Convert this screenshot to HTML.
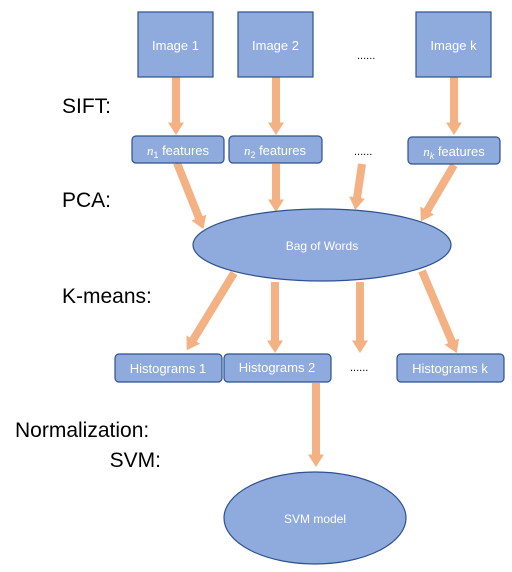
<!DOCTYPE html>
<html><head><style>body{margin:0;background:#fff}svg{display:block}</style></head><body>
<svg width="512" height="572" viewBox="0 0 512 572" xmlns="http://www.w3.org/2000/svg" font-family="Liberation Sans, sans-serif">
<defs>
<marker id="ah" markerWidth="13" markerHeight="17" refX="0.5" refY="8.5" orient="auto" markerUnits="userSpaceOnUse">
<path d="M0,0.5 L12.5,8.5 L0,16.5 Z" fill="#f4b183"/>
</marker>
</defs>
<g stroke="#f4b183" stroke-width="8" marker-end="url(#ah)">
<line x1="176" y1="77" x2="176" y2="123"/>
<line x1="276" y1="77" x2="276" y2="123"/>
<line x1="454" y1="77" x2="454" y2="123"/>
<line x1="177" y1="163" x2="199" y2="218"/>
<line x1="276" y1="164" x2="276" y2="200"/>
<line x1="362" y1="164" x2="357" y2="198"/>
<line x1="454" y1="165" x2="427" y2="211"/>
<line x1="234" y1="273" x2="193" y2="340"/>
<line x1="275" y1="282" x2="275" y2="341"/>
<line x1="360" y1="282" x2="360" y2="341"/>
<line x1="422" y1="271" x2="452" y2="342"/>
<line x1="316" y1="383" x2="316" y2="455"/>
</g>
<g fill="#8faadc" stroke="#2f528f" stroke-width="1.2">
<rect x="138" y="12" width="75" height="65"/>
<rect x="238" y="12" width="75" height="65"/>
<rect x="416" y="12" width="75" height="65"/>
<rect x="132" y="136" width="92" height="27" rx="4"/>
<rect x="229" y="136" width="93" height="27" rx="4"/>
<rect x="408" y="137" width="92" height="27" rx="4"/>
<ellipse cx="322" cy="245" rx="129" ry="36"/>
<rect x="115" y="354" width="107" height="28" rx="4"/>
<rect x="224" y="354" width="107" height="28" rx="4"/>
<rect x="397" y="354" width="107" height="28" rx="4"/>
<ellipse cx="315" cy="518" rx="91" ry="46"/>
</g>
<g fill="#fff" font-size="13" text-anchor="middle">
<text x="175.5" y="50">Image 1</text>
<text x="275.5" y="50">Image 2</text>
<text x="453.5" y="50">Image k</text>
<text x="178" y="155"><tspan font-family="Liberation Serif, serif" font-style="italic">n</tspan><tspan font-size="9" dy="3">1</tspan><tspan dy="-3"> features</tspan></text>
<text x="275" y="155"><tspan font-family="Liberation Serif, serif" font-style="italic">n</tspan><tspan font-size="9" dy="3">2</tspan><tspan dy="-3"> features</tspan></text>
<text x="454" y="156"><tspan font-family="Liberation Serif, serif" font-style="italic">n</tspan><tspan font-size="9" dy="3" font-style="italic">k</tspan><tspan dy="-3"> features</tspan></text>
<text x="322" y="250" font-size="12">Bag of Words</text>
<text x="168" y="373">Histograms 1</text>
<text x="277" y="372">Histograms 2</text>
<text x="450" y="373">Histograms k</text>
<text x="315" y="523" font-size="12">SVM model</text>
</g>
<g fill="#000" font-size="11">
<text x="357" y="59">......</text>
<text x="354" y="155">......</text>
<text x="350" y="371">......</text>
</g>
<g fill="#000" font-size="21">
<text x="62" y="113">SIFT:</text>
<text x="62" y="207">PCA:</text>
<text x="62" y="303">K-means:</text>
<text x="15" y="437">Normalization:</text>
<text x="161" y="467" text-anchor="end">SVM:</text>
</g>
</svg>
</body></html>
